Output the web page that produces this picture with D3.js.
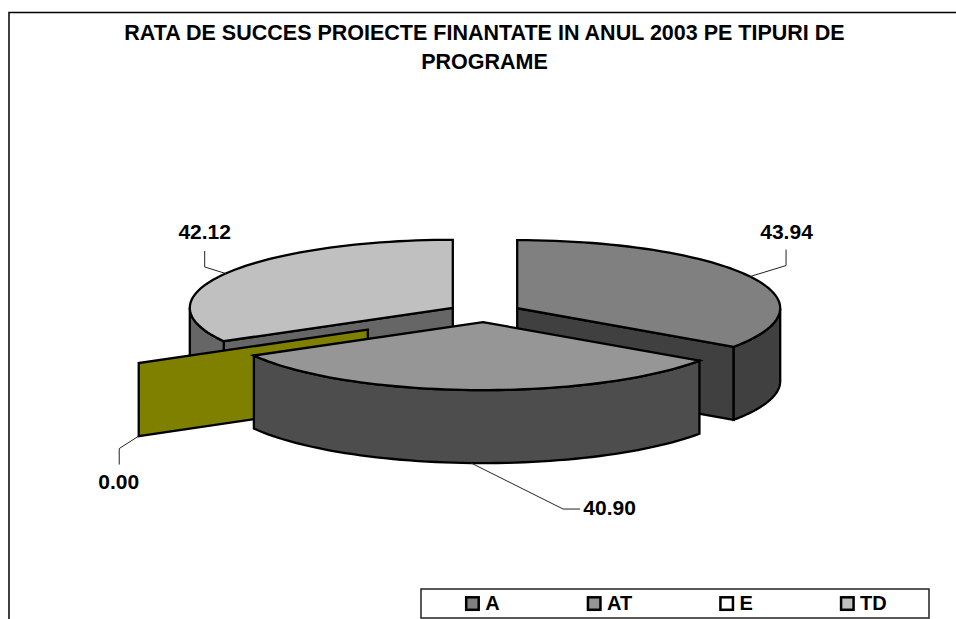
<!DOCTYPE html>
<html>
<head>
<meta charset="utf-8">
<script src="https://cdn.jsdelivr.net/npm/d3@7"></script>
<style>
  html, body { margin: 0; padding: 0; background: white; }
  svg { display: block; }
  text { font-family: "Liberation Sans", Arial, sans-serif; font-weight: bold; fill: black; }
</style>
</head>
<body>
<script>
const width = 956;
const height = 619;

const titleLines = ["RATA DE SUCCES PROIECTE FINANTATE IN ANUL 2003 PE TIPURI DE", "PROGRAME"];
const categories = ["A", "AT", "E", "TD"];
const values = [43.94, 40.90, 0.00, 42.12];
const explosion = [0.14, 0.14, 0.51, 0.14]; // share of the radius
const topColors = ["#808080", "#969696", "#808000", "#c0c0c0"];
const sideColors = ["#404040", "#4d4d4d", "#808000", "#666666"];
const legendColors = ["#808080", "#969696", "#ffffff", "#c0c0c0"];

const cx = 484.6, cy = 312.6;
const rx = 263, ry = 68, depth = 73;

// label text offset from the leader start, and the elbow of the leader
const labelPos = {
    A: { elbow: [36, -11], end: [36, -27], text: [36.5, -38] },
    AT: { elbow: [92, 46], end: [109, 46], text: [138.5, 52] },
    E: { elbow: [-19.5, 12.5], end: [-19.5, 28.5], text: [-20, 53] },
    TD: { elbow: [-21, -6.5], end: [-21, -22.5], text: [-21, -34.5] }
};

const svg = d3.select("body").append("svg")
    .attr("width", width)
    .attr("height", height);

// chart frame, cut by the bottom and right of the picture
svg.append("path")
    .attr("d", "M9,619V12.5H956")
    .attr("fill", "none")
    .attr("stroke", "black")
    .attr("stroke-width", 1.5);

svg.append("g").selectAll("text")
    .data(titleLines)
    .join("text")
    .attr("x", 484.5)
    .attr("y", (d, i) => 40 + i * 29)
    .attr("text-anchor", "middle")
    .attr("font-size", 21.5)
    .text(d => d);

const pieData = d3.pie().sort(null).value(d => d.value).startAngle(0).endAngle(2 * Math.PI)(
    categories.map((c, i) => ({ name: c, value: values[i], i: i }))
);

// angle measured clockwise from 12 o'clock, y squashed by the tilt
const px = (c, a) => c.x + rx * Math.sin(a);
const py = (c, a) => c.y - ry * Math.cos(a);

function center(d) {
    const mid = (d.startAngle + d.endAngle) / 2;
    const e = explosion[d.data.i] * rx;
    return { x: cx + e * Math.sin(mid), y: cy - e * (ry / rx) * Math.cos(mid) };
}

function rimPath(c, a0, a1, dy) {
    const steps = d3.range(0, 61).map(k => a0 + (a1 - a0) * k / 60);
    return steps.map(a => [px(c, a), py(c, a) + dy]);
}

const line = d3.line();
const chart = svg.append("g")
    .attr("stroke", "black")
    .attr("stroke-width", 2.3)
    .attr("stroke-linejoin", "miter");

function drawWall(c, a, fill) {
    const x = px(c, a), y = py(c, a);
    chart.append("path")
        .attr("d", line([[c.x, c.y], [x, y], [x, y + depth], [c.x, c.y + depth]]) + "Z")
        .attr("fill", fill);
}

function drawSide(c, a0, a1, fill) {
    // only the part of the rim facing the viewer
    const from = Math.max(a0, Math.PI / 2), to = Math.min(a1, 3 * Math.PI / 2);
    if (to <= from) return;
    const pts = rimPath(c, from, to, 0).concat(rimPath(c, to, from, depth));
    chart.append("path").attr("d", line(pts) + "Z").attr("fill", fill);
}

function drawTop(c, d, fill) {
    const pts = [[c.x, c.y]].concat(rimPath(c, d.startAngle, d.endAngle, 0));
    chart.append("path").attr("d", line(pts) + "Z").attr("fill", fill);
}

// back to front: TD, A, E, AT
[3, 0, 2, 1].forEach(i => {
    const d = pieData[i];
    const c = center(d);
    if (d.value === 0) {
        drawWall(c, d.startAngle, sideColors[i]);
        return;
    }
    if (d.startAngle > Math.PI) drawWall(c, d.startAngle, sideColors[i]);
    if (d.endAngle < Math.PI) drawWall(c, d.endAngle, sideColors[i]);
    drawSide(c, d.startAngle, d.endAngle, sideColors[i]);
    drawTop(c, d, topColors[i]);
});

// leader lines and value labels
const labels = svg.append("g");
pieData.forEach(d => {
    const c = center(d);
    const mid = (d.startAngle + d.endAngle) / 2;
    const x0 = px(c, mid);
    const y0 = py(c, mid) + (Math.cos(mid) < 0 ? depth : 0);
    const p = labelPos[d.data.name];
    labels.append("path")
        .attr("d", line([[x0, y0], [x0 + p.elbow[0], y0 + p.elbow[1]], [x0 + p.end[0], y0 + p.end[1]]]))
        .attr("fill", "none")
        .attr("stroke", "#222")
        .attr("stroke-width", 1);
    labels.append("text")
        .attr("x", x0 + p.text[0])
        .attr("y", y0 + p.text[1])
        .attr("text-anchor", "middle")
        .attr("font-size", 21)
        .text(d3.format(".2f")(d.value));
});

// legend
const legend = svg.append("g");
legend.append("rect")
    .attr("x", 421).attr("y", 589)
    .attr("width", 508).attr("height", 29)
    .attr("fill", "white").attr("stroke", "#222").attr("stroke-width", 1.5);

// entries are spaced by their text width plus a fixed gap
const legendGap = 107.3;
let legendCursor = 466.2;
const items = legend.selectAll("g.item")
    .data(categories)
    .join("g")
    .attr("class", "item");
items.append("rect")
    .attr("x", 0).attr("y", -6.2)
    .attr("width", 12.5).attr("height", 12.5)
    .attr("fill", (d, i) => legendColors[i])
    .attr("stroke", "black").attr("stroke-width", 2.5);
items.append("text")
    .attr("x", 19).attr("y", 6.5)
    .attr("font-size", 20)
    .text(d => d);
items.attr("transform", function () {
    const t = `translate(${legendCursor},603.5)`;
    legendCursor += d3.select(this).select("text").node().getComputedTextLength() + legendGap;
    return t;
});
</script>
</body>
</html>
